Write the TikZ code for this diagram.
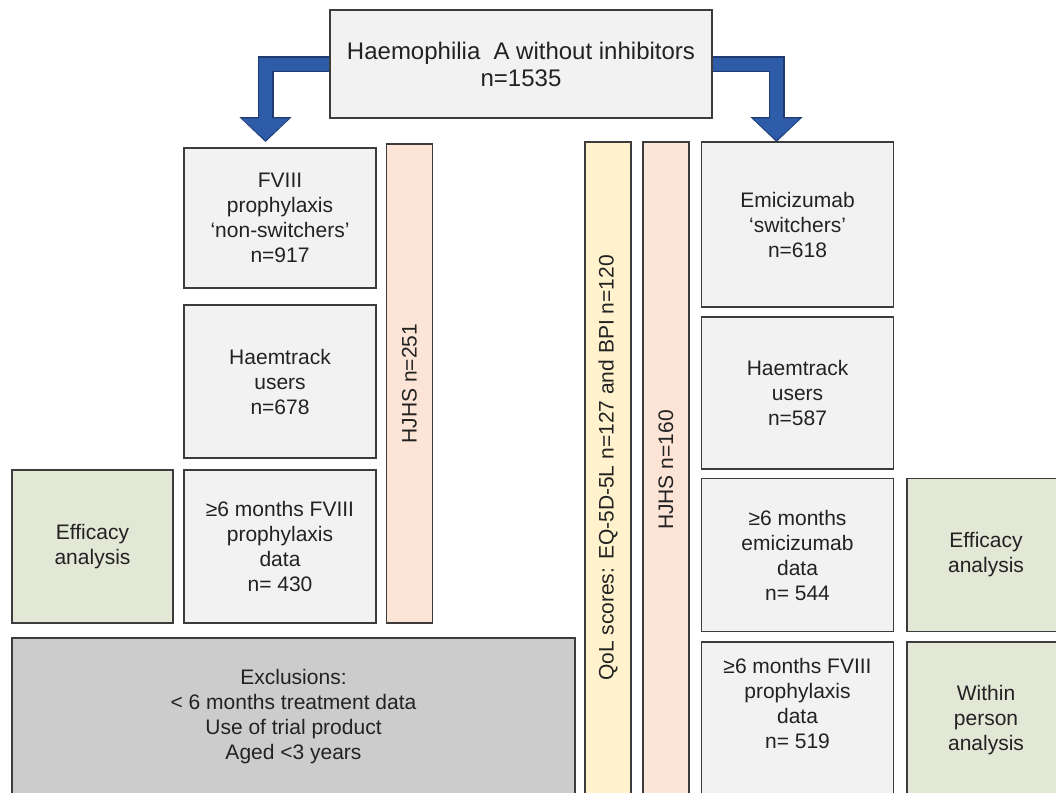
\documentclass[tikz,border=0pt]{standalone}
\usepackage{fontspec}
\setmainfont{Liberation Sans}
\usepackage{tikz}
\usetikzlibrary{arrows.meta}

\definecolor{boxfill}{HTML}{F2F2F2}
\definecolor{edge}{HTML}{3C3C3C}
\definecolor{ink}{HTML}{222222}
\definecolor{sage}{HTML}{E2E7D6}
\definecolor{peach}{HTML}{FCE4D6}
\definecolor{cream}{HTML}{FFF2CC}
\definecolor{exclgrey}{HTML}{CCCCCC}
\definecolor{flowblue}{HTML}{2F5CA8}
\definecolor{flowedge}{HTML}{1F3C72}

\begin{document}
\begin{tikzpicture}[x=1pt, y=-1pt,
    cell/.style={rectangle, draw=edge, line width=1.3pt, fill=boxfill, text=ink,
        align=center, inner sep=0pt, minimum width=192pt,
        font=\fontsize{21}{25}\selectfont},
    bar/.style={cell, rotate=90, minimum height=46pt},
    flow/.style={line width=13pt, draw=flowblue, line join=miter, shorten >=1.6pt,
        -{Triangle[width=46pt,length=22pt]},
        preaction={draw=flowedge, line width=16pt, shorten >=0pt,
            -{Triangle[width=51pt,length=25pt]}}} ]
    \useasboundingbox (0,0) rectangle (1056,792);
    \clip (0,0) rectangle (1056,792);

    % top
    \coordinate (tipl) at (265.5,142);
    \coordinate (tipr) at (776.5,142);
    \draw [flow] (521,64) -| (tipl);
    \draw [flow] (521,64) -| (tipr);
    \node [cell, minimum width=382pt, minimum height=108pt, font=\fontsize{24}{27}\selectfont]
        (top) at (521,64) {Haemophilia\hspace{0.55em}A without inhibitors\\n=1535};

    % non-switchers
    \node [cell, minimum height=140pt] (nsw) at (280,218) {FVIII\\prophylaxis\\‘non-switchers’\\n=917};
    \node [cell, minimum height=153pt] (htl) at (280,381.5) {Haemtrack\\users\\n=678};
    \node [cell, minimum height=153pt] (dl) at (280,546.5) {≥6 months FVIII\\prophylaxis\\data\\n= 430};
    \node [cell, fill=sage, minimum width=161pt, minimum height=153pt] (effl) at (92.5,546.5) {Efficacy\\analysis};
    \node [bar, fill=peach, minimum width=479pt] (hjl) at (409.5,383.5) {HJHS n=251};
    \node [cell, fill=exclgrey, minimum width=563pt, minimum height=157pt] (excl) at (293.5,716.5)
        {Exclusions:\\< 6 months treatment data\\Use of trial product\\Aged <3 years};

    % switchers
    \node [bar, fill=cream, minimum width=652pt] (qol) at (608,468) {QoL scores: EQ-5D-5L n=127 and BPI n=120};
    \node [bar, fill=peach, minimum width=656pt] (hjr) at (666,470) {HJHS n=160};
    \node [cell, minimum height=165pt] (sw) at (797.5,224.5) {Emicizumab\\‘switchers’\\n=618};
    \node [cell, minimum height=152pt] (htr) at (797.5,393) {Haemtrack\\users\\n=587};
    \node [cell, minimum height=153pt] (der) at (797.5,555) {≥6 months\\emicizumab\\data\\n= 544};
    \node [cell, minimum height=156pt] (dfr) at (797.5,720) {≥6 months FVIII\\prophylaxis\\data\\n= 519\\\strut};
    \node [cell, fill=sage, minimum width=158pt, minimum height=153pt] (effr) at (986,555) {Efficacy\\analysis};
    \node [cell, fill=sage, minimum width=158pt, minimum height=156pt] (within) at (986,720) {Within\\person\\analysis};
\end{tikzpicture}
\end{document}
